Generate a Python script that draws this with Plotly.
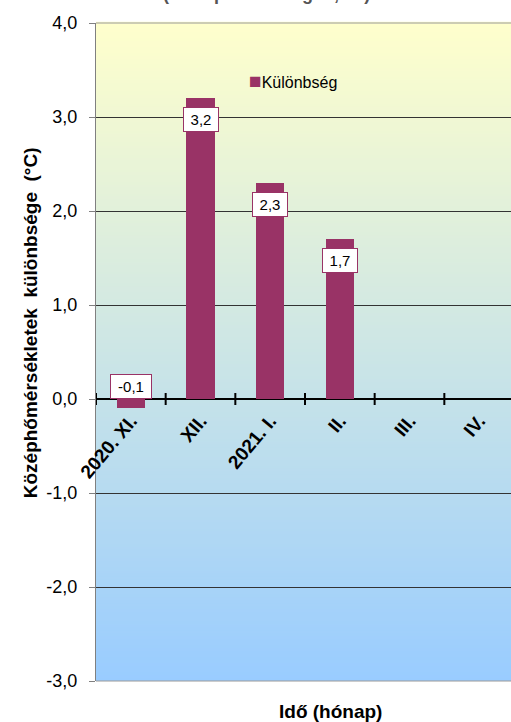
import plotly.graph_objects as go

# ---- data ----
months = ["2020. XI.", "XII.", "2021. I.", "II.", "III.", "IV."]
diff = [-0.1, 3.2, 2.3, 1.7, None, None]
y_tick_vals = [-3, -2, -1, 0, 1, 2, 3, 4]
series_name = "Különbség"
y_title = "Középhőmérsékletek  különbsége  (°C)"
x_title = "Idő (hónap)"
top_title = "(Budapest – Szeged, °C)"

# ---- style ----
FONT = "Liberation Sans, Arial, sans-serif"
BAR = "#993366"
TOP_RGB = (255, 255, 204)
BOT_RGB = (153, 204, 255)


def fmt(v):
    return ("%.1f" % v).replace(".", ",")


fig = go.Figure()
fig.add_trace(go.Bar(
    x=months, y=diff, marker_color=BAR, marker_line_width=0,
    width=0.41, name=series_name, showlegend=False,
))

# gradient plot background
N = 220
for i in range(N):
    f = (i + 0.5) / N
    c = tuple(round(BOT_RGB[k] + (TOP_RGB[k] - BOT_RGB[k]) * f) for k in range(3))
    fig.add_shape(type="rect", xref="x domain", yref="y domain",
                  x0=0, x1=1, y0=i / N, y1=(i + 1) / N + 0.002,
                  fillcolor="rgb(%d,%d,%d)" % c, line_width=0, layer="below")

# crossing tick marks on the zero line at category boundaries
for i in range(len(months) + 1):
    fig.add_shape(type="line", xref="x", yref="y",
                  x0=i - 0.5, x1=i - 0.5, y0=-0.064, y1=0.064,
                  line=dict(color="black", width=2), layer="above")

# plot area borders (top / bottom)
for yy in (0, 1):
    fig.add_shape(type="line", xref="x domain", yref="y domain",
                  x0=0, x1=1, y0=yy, y1=yy,
                  line=dict(color="#9a9a9a", width=1), layer="above")

# data labels
for i, (m, v) in enumerate(zip(months, diff)):
    if v is None:
        continue
    txt = fmt(v)
    kw = dict(y=v, yanchor="top", yshift=-9) if v > 0 else dict(y=0, yanchor="bottom", yshift=0)
    fig.add_annotation(x=m, xref="x", yref="y", text=txt, showarrow=False,
                       font=dict(family=FONT, size=15, color="black"),
                       bgcolor="white", bordercolor=BAR, borderwidth=1, borderpad=1,
                       width=14 + 6 * len(txt), height=21, align="center", **kw)

# legend (key + name)
fig.add_annotation(xref="paper", yref="paper", x=0.363, y=0.912,
                   xanchor="left", yanchor="middle", showarrow=False,
                   text="<span style='color:%s;font-size:21px'>■</span>%s" % (BAR, series_name),
                   font=dict(family=FONT, size=16, color="black"))

# axis titles
fig.add_annotation(xref="paper", yref="paper", x=0.564, y=-0.047,
                   xanchor="center", yanchor="middle", showarrow=False,
                   text="<b>%s</b>" % x_title,
                   font=dict(family=FONT, size=19, color="black"))
fig.add_annotation(xref="paper", yref="paper", x=-0.157, y=0.545,
                   xanchor="center", yanchor="middle", showarrow=False, textangle=-90,
                   text="<b>%s</b>" % y_title,
                   font=dict(family=FONT, size=19, color="black"))
# partially visible title at the top (clipped by the page edge, as in the original)
fig.add_annotation(xref="paper", yref="paper", x=0.41, y=1,
                   xanchor="center", yanchor="bottom", yshift=17, showarrow=False,
                   text="<b>%s</b>" % top_title,
                   font=dict(family=FONT, size=18, color="#555555"))

fig.update_layout(
    width=511, height=722,
    margin=dict(l=96, r=0, t=23, b=41),
    paper_bgcolor="white", plot_bgcolor="rgba(0,0,0,0)",
    showlegend=False,
    bargap=0,
    font=dict(family=FONT, color="black"),
    xaxis=dict(
        type="category", range=[-0.5, 5.457],
        anchor="free", position=3 / 7,
        showgrid=False, showline=False, zeroline=False,
        ticks="", tickangle=-50,
        tickfont=dict(family=FONT, size=19, color="black", weight="bold"),
        ticklabelstandoff=6,
    ),
    yaxis=dict(
        range=[-3, 4], tickvals=y_tick_vals, ticktext=[fmt(v) for v in y_tick_vals],
        showgrid=True, gridcolor="#333333", gridwidth=1,
        zeroline=True, zerolinecolor="black", zerolinewidth=2,
        showline=True, linecolor="#808080", linewidth=1,
        ticks="outside", ticklen=6, tickcolor="#808080",
        tickfont=dict(family=FONT, size=18, color="black"),
        ticklabelstandoff=8,
    ),
)

fig.write_html("out.html")
